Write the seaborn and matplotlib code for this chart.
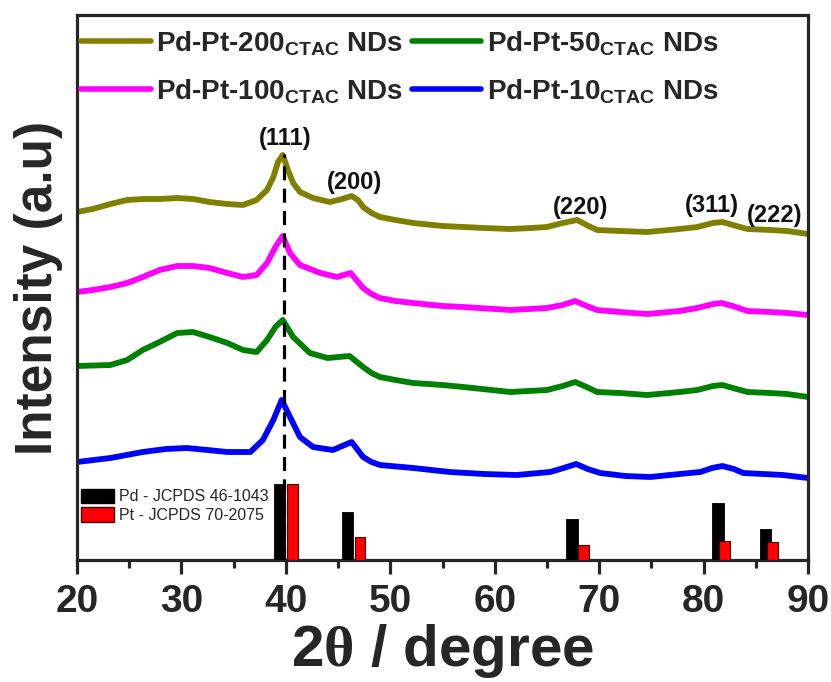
import numpy as np
import pandas as pd
import matplotlib
matplotlib.use("Agg")
import matplotlib.pyplot as plt
from matplotlib.lines import Line2D
from matplotlib.patches import Patch
import seaborn as sns

# ---------------- data ----------------
x_200 = [20.0, 21.5, 23.2, 24.8, 26.3, 27.9, 29.6, 31.1, 32.7, 34.4, 35.9, 37.2, 38.2, 38.8,
         39.25, 39.7, 40.2, 40.7, 41.35, 42.6, 44.2, 45.4, 46.3, 46.9, 47.4, 48.2, 49.0, 50.5,
         52.2, 55.0, 57.0, 59.0, 61.5, 63.5, 65.0, 66.5, 67.9, 68.8, 69.8, 72.0, 74.6, 77.7,
         79.4, 80.9, 81.8, 82.8, 84.2, 86.4, 88.0, 90.0]
y_200 = [348, 351, 356, 360, 361, 361, 362, 361, 358, 356, 355, 360, 370, 383,
         398, 405, 390, 377, 368, 362, 358, 361, 364, 360, 353, 347, 343, 340,
         337, 334, 333, 332, 331, 332, 333, 337, 340, 335, 330, 329, 328, 331,
         333, 337, 338, 335, 331, 330, 329, 326]

x_100 = [20.0, 21.5, 23.2, 24.8, 26.3, 27.9, 29.6, 31.1, 32.7, 34.4, 35.9, 37.2, 38.2, 39.0,
         39.7, 40.4, 41.35, 43.3, 44.9, 46.2, 47.4, 48.2, 49.0, 50.5, 52.2, 55.0, 57.0, 61.5,
         65.0, 66.5, 67.7, 68.8, 69.8, 72.0, 74.6, 77.7, 79.4, 80.9, 81.7, 82.8, 84.2, 86.4,
         88.0, 90.0]
y_100 = [268, 270, 273, 277, 283, 290, 294, 294, 292, 287, 283, 285, 297, 313,
         324, 307, 295, 287, 283, 287, 272, 266, 262, 259, 257, 254, 253, 250,
         252, 255, 259, 254, 250, 248, 246, 249, 252, 256, 257, 254, 249, 248,
         247, 245]

x_50 = [20.0, 23.2, 24.8, 26.3, 27.9, 29.6, 31.1, 32.7, 34.4, 35.9, 37.2, 38.2, 39.0, 39.7,
        40.7, 42.3, 44.0, 46.1, 47.4, 48.2, 49.0, 50.5, 52.2, 55.0, 57.0, 61.5, 65.0, 66.5,
        67.7, 68.8, 69.8, 72.0, 74.6, 77.7, 79.4, 80.9, 81.8, 82.8, 84.2, 86.4, 88.0, 90.0]
y_50 = [194, 195, 200, 210, 218, 227, 228, 223, 217, 210, 208, 220, 233, 240,
        223, 207, 202, 204, 193, 187, 183, 180, 177, 175, 173, 168, 170, 174,
        178, 173, 168, 167, 165, 168, 170, 174, 175, 172, 168, 167, 166, 163]

x_10 = [20.0, 23.2, 26.3, 28.5, 30.5, 32.5, 34.4, 36.6, 37.8, 38.8, 39.6, 40.4, 41.35, 42.6,
        44.5, 46.3, 47.4, 48.2, 49.0, 52.2, 55.7, 59.0, 62.1, 65.3, 66.6, 67.8, 68.9, 70.1,
        72.5, 74.9, 77.7, 79.7, 80.8, 81.8, 82.9, 83.8, 87.6, 90.0]
y_10 = [98, 102, 108, 111, 112, 110, 108, 108, 120, 140, 160, 143, 123, 113,
        110, 118, 103, 98, 95, 92, 88, 86, 85, 88, 92, 96, 91, 87,
        84, 83, 86, 88, 92, 94, 91, 87, 85, 82]

pd_pos = [39.4, 45.9, 67.4, 81.4, 85.95]
pd_int = [76, 48, 41, 57, 31]
pt_pos = [40.6, 47.1, 68.5, 82.0, 86.6]
pt_int = [76, 23, 15, 19, 18]

series_names = ["Pd-Pt-200", "Pd-Pt-100", "Pd-Pt-50", "Pd-Pt-10"]
series_colors = ["#808000", "#FF00FF", "#008000", "#0000FF"]

peak_labels = ["(111)", "(200)", "(220)", "(311)", "(222)"]
peak_lab_x = [39.9, 46.6, 68.2, 80.8, 86.85]
peak_lab_y = [422, 378, 353, 355, 345]

ref_line_x = 39.8
ref_line_top = 406

# ---------------- build table ----------------
frames = []
for name, xs, ys in zip(series_names, [x_200, x_100, x_50, x_10], [y_200, y_100, y_50, y_10]):
    frames.append(pd.DataFrame({"two_theta": xs, "intensity": ys, "sample": name}))
df = pd.concat(frames, ignore_index=True)

# ---------------- style ----------------
sns.set_style("ticks")
plt.rcParams["font.family"] = ["Liberation Sans", "DejaVu Sans"]
plt.rcParams["font.weight"] = "bold"
plt.rcParams["mathtext.fontset"] = "custom"
plt.rcParams["mathtext.rm"] = "Liberation Serif"
plt.rcParams["mathtext.bf"] = "Liberation Sans:bold"
plt.rcParams["axes.linewidth"] = 2.3

fig = plt.figure(figsize=(8.31, 6.82), dpi=100)
ax = fig.add_axes([77 / 831, 1 - 560 / 682, 731 / 831, 545 / 682])

palette = dict(zip(series_names, series_colors))
sns.lineplot(data=df, x="two_theta", y="intensity", hue="sample", palette=palette,
             sort=False, estimator=None, linewidth=4.2, legend=False, ax=ax, zorder=2)
for ln in ax.get_lines():
    ln.set_solid_joinstyle("round")
    ln.set_solid_capstyle("round")

# reference bars
ax.bar(pd_pos, pd_int, width=1.1, color="black", edgecolor="black", linewidth=0.6, zorder=3)
ax.bar(pt_pos, pt_int, width=1.05, color="#FF0000", edgecolor="#400000", linewidth=0.8, zorder=4)

# dashed reference line
ax.plot([ref_line_x, ref_line_x], [0, ref_line_top], color="black", lw=2.3,
        ls=(0, (4.4, 2.6)), zorder=5)

# peak labels
for t, px, py in zip(peak_labels, peak_lab_x, peak_lab_y):
    ax.text(px, py, t, ha="center", va="center", fontsize=17, fontweight="bold",
            color="#111111", zorder=6)

ax.set_xlim(20, 90)
ax.set_ylim(0, 545)
ax.set_xticks(np.arange(20, 91, 10))
ax.set_xticks(np.arange(25, 90, 10), minor=True)
ax.set_yticks([])
ax.tick_params(axis="x", which="major", direction="out", length=10, width=2.3,
               labelsize=28, pad=7)
ax.tick_params(axis="x", which="minor", direction="out", length=5.5, width=2.3)
for lab in ax.get_xticklabels():
    lab.set_fontweight("bold")
for s in ax.spines.values():
    s.set_linewidth(2.3)

ax.set_xlabel(r"2$\mathrm{\theta}$ / degree", fontsize=42, fontweight="bold", labelpad=2)
ax.set_ylabel("Intensity (a.u)", fontsize=37, fontweight="bold", labelpad=10)

# main legend (row-wise: 200, 50 / 100, 10)
handles = [Line2D([0], [0], color=c, lw=4.0) for c in series_colors]
labels = [n + r"$_{\mathbf{CTAC}}$ NDs" for n in series_names]
leg1 = ax.legend(handles, labels, ncol=2, loc="upper left", bbox_to_anchor=(0.006, 0.974),
                 frameon=False, prop={"size": 20, "weight": "bold"}, handlelength=2.5,
                 handletextpad=0.2, columnspacing=0.3, labelspacing=0.68,
                 borderpad=0, borderaxespad=0)
ax.add_artist(leg1)

# reference legend
h2 = [Patch(facecolor="black", edgecolor="black"),
      Patch(facecolor="#FF0000", edgecolor="#400000")]
ax.legend(h2, ["Pd - JCPDS 46-1043", "Pt - JCPDS 70-2075"], loc="lower left",
          bbox_to_anchor=(0.005, 0.068), frameon=False,
          prop={"size": 11.5, "weight": "normal"}, handlelength=2.1, handleheight=1.0,
          handletextpad=0.3, labelspacing=0.2, borderpad=0, borderaxespad=0)

fig.savefig("out.png", dpi=100)
